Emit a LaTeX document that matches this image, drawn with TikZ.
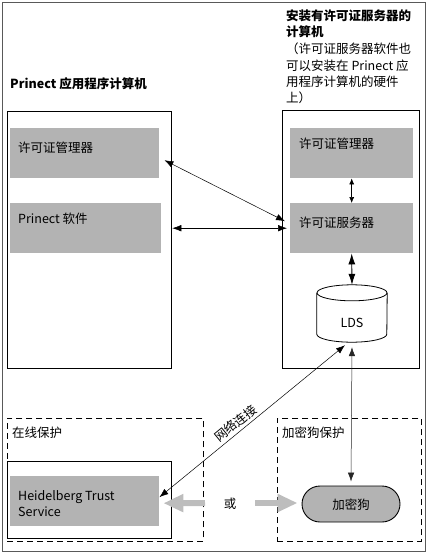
\documentclass[tikz,border=0pt]{standalone}
\usepackage{fontspec}
\setmainfont{Noto Sans CJK SC}
\usetikzlibrary{arrows.meta,calc}
\definecolor{boxgray}{HTML}{B3B3B3}
\definecolor{fatgray}{HTML}{BDBDBD}
\begin{document}
\begin{tikzpicture}[x=1pt,y=-1pt,
  graybox/.style={fill=boxgray, draw=none, inner sep=0, anchor=north west},
  machine/.style={draw=black, line width=1.3pt, inner sep=0, anchor=north west},
  zone/.style={draw=black, dash pattern=on 6pt off 4pt, line width=0.9pt, inner sep=0, anchor=north west},
  lbl/.style={anchor=base west, inner sep=0, font=\fontsize{12.5}{16}\selectfont},
  ttl/.style={lbl, font=\fontsize{12.5}{16}\selectfont\bfseries},
  link/.style={{Latex[length=9pt,width=6.5pt]}-{Latex[length=9pt,width=6.5pt]}, line width=0.5pt},
  smalllink/.style={{Latex[length=6pt,width=5pt]}-{Latex[length=6pt,width=5pt]}, line width=0.6pt},
  biglink/.style={{Latex[length=11pt,width=7pt]}-{Latex[length=11pt,width=7pt]}, line width=0.8pt},
  fat/.style={line width=6pt, draw=fatgray, fill=fatgray, -{Triangle[length=20pt,width=17pt]}}
]
\useasboundingbox (0,0) rectangle (428,554);
\draw[line width=0.8pt, black!65] (2,2) rectangle (425,551);

% titles
\node[ttl] (ttlA) at (10,88) {Prinect 应用程序计算机};
\node[ttl] (ttlB1) at (286,20) {安装有许可证服务器的};
\node[ttl] (ttlB2) at (286,36.5) {计算机};
\node[lbl] (ttlB3) at (286,53) {（许可证服务器软件也};
\node[lbl] (ttlB4) at (286,70) {可以安装在 Prinect 应};
\node[lbl] (ttlB5) at (286,86.5) {用程序计算机的硬件};
\node[lbl] (ttlB6) at (286,102) {上）};

% machines
\node[machine, minimum width=164, minimum height=257] (lapp) at (7,111) {};
\node[machine, minimum width=137, minimum height=258] (rsrv) at (282,110) {};

\node[graybox, minimum width=149, minimum height=50] (lm1) at (10,128) {};
\node[graybox, minimum width=151, minimum height=50] (psw) at (10,203) {};
\node[graybox, minimum width=123, minimum height=50] (lm2) at (290,128) {};
\node[graybox, minimum width=123, minimum height=50] (srv) at (290,203) {};
\node[lbl] (lm1t) at (18,152) {许可证管理器};
\node[lbl] (pswt) at (18,223) {Prinect 软件};
\node[lbl] (lm2t) at (299,148) {许可证管理器};
\node[lbl] (srvt) at (299,227) {许可证服务器};

% LDS cylinder
\node[inner sep=0, minimum width=70, minimum height=57] (lds) at (352,313.5) {};
\draw[line width=0.8pt, fill=white]
  ($(lds.north west)+(0,8)$) -- ($(lds.south west)+(0,-8)$)
  arc[start angle=180, end angle=360, x radius=35pt, y radius=8pt]
  -- ($(lds.north east)+(0,8)$);
\draw[line width=0.8pt] ($(lds.north)+(0,8)$) ellipse [x radius=35pt, y radius=8pt];
\node[lbl, anchor=base] (ldst) at (352,327) {LDS};

% zones
\node[zone, minimum width=196, minimum height=123] (zon) at (7,418) {};
\node[zone, minimum width=144, minimum height=123] (zdg) at (277,418) {};
\node[lbl] (zont) at (12,437) {在线保护};
\node[lbl] (zdgt) at (282,437) {加密狗保护};

\node[machine, minimum width=164, minimum height=77] (htsbox) at (7,461) {};
\node[graybox, minimum width=149, minimum height=50] (hts) at (10,476) {};
\node[lbl] (htst1) at (18,500) {Heidelberg Trust};
\node[lbl] (htst2) at (18,516) {Service};

\node[draw=black, line width=0.9pt, fill=boxgray, rounded corners=18pt, minimum width=98, minimum height=36, inner sep=0] (dongle) at (351,504) {};
\node[lbl, anchor=base] (donglet) at (351,509) {加密狗};

\node[lbl, anchor=base] (ort) at (230,508) {或};

% connectors
\draw[link] ($(lm1.east)+(5,7)$) -- ($(srv.west)+(-5,-7)$);
\draw[link] (srv.west -| lapp.east) -- ($(srv.west)+(-3,0)$);
\draw[smalllink] (lm2.south) -- (srv.north);
\draw[biglink] (srv.south) -- (lds.north);
\draw[link] ($(hts.east)+(0,-4)$) -- node[sloped, above=3pt, pos=0.44, inner sep=0pt, font=\fontsize{12.5}{16}\selectfont] (netlbl) {网络连接} ($(lds.south)+(-7,3)$);
\draw[link, draw=black!85] ($(lds.south)+(0,5)$) -- ($(dongle.north)+(0,-4)$);

\coordinate (fatL) at (205,503);
\coordinate (fatR) at (255,503);
\draw[fat] (fatL) -- ($(hts.east)+(4,2)$);
\draw[fat] (fatR) -- ($(dongle.west)+(-4,-1)$);
\end{tikzpicture}
\end{document}
